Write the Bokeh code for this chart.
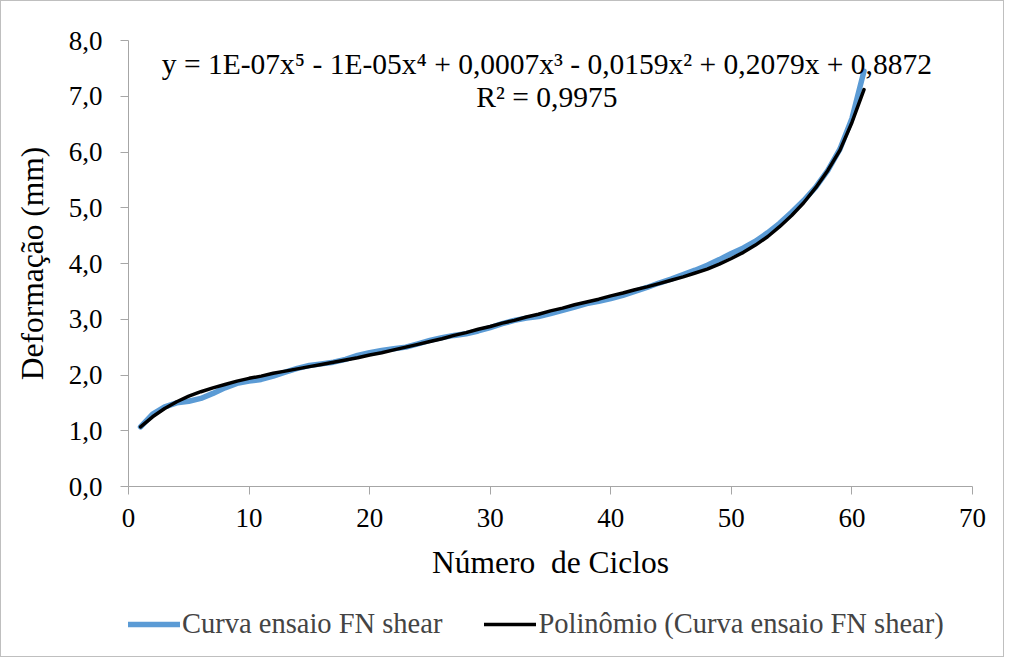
from bokeh.plotting import figure
from bokeh.layouts import column
from bokeh.models import (Label, Legend, LegendItem, FixedTicker, CustomJSTickFormatter,
                          ColumnDataSource, Range1d)
from bokeh.embed import file_html
from bokeh.resources import INLINE

# ---------------- data ----------------
ciclos = list(range(1, 62))
deformacao = [1.07, 1.30, 1.43, 1.50, 1.53, 1.58, 1.67, 1.77, 1.85, 1.89,
              1.92, 1.98, 2.05, 2.12, 2.17, 2.20, 2.23, 2.28, 2.35, 2.40,
              2.44, 2.47, 2.50, 2.56, 2.62, 2.67, 2.71, 2.74, 2.79, 2.85,
              2.92, 2.98, 3.02, 3.05, 3.10, 3.16, 3.22, 3.28, 3.32, 3.37,
              3.43, 3.50, 3.57, 3.65, 3.72, 3.80, 3.88, 3.97, 4.07, 4.18,
              4.28, 4.40, 4.55, 4.72, 4.92, 5.13, 5.37, 5.67, 6.05, 6.60,
              7.45]
polinomio = [1.07, 1.25, 1.40, 1.52, 1.62, 1.70, 1.77, 1.83, 1.89, 1.94,
             1.98, 2.03, 2.07, 2.11, 2.15, 2.19, 2.23, 2.27, 2.31, 2.36,
             2.40, 2.45, 2.50, 2.55, 2.60, 2.65, 2.71, 2.76, 2.82, 2.87,
             2.93, 2.98, 3.04, 3.09, 3.15, 3.20, 3.26, 3.31, 3.36, 3.42,
             3.47, 3.53, 3.58, 3.64, 3.70, 3.76, 3.83, 3.90, 3.99, 4.09,
             4.20, 4.33, 4.48, 4.66, 4.86, 5.09, 5.36, 5.67, 6.03, 6.53,
             7.12]
x_ticks = [0, 10, 20, 30, 40, 50, 60, 70]
y_ticks = [0, 1, 2, 3, 4, 5, 6, 7, 8]
serie_label = "Curva ensaio FN shear"
trend_label = "Polinômio (Curva ensaio FN shear)"
equacao = "y = 1E-07x\u2075 - 1E-05x\u2074 + 0,0007x\u00b3 - 0,0159x\u00b2 + 0,2079x + 0,8872"
r2_text = "R\u00b2 = 0,9975"
x_title = "Número\u00a0 de Ciclos"
y_title = "Deformação (mm)"

FONT = "Liberation Serif"
AXIS_COL = "#a6a6a6"
BORDER = "1px solid #bfbfbf"
BLUE = "#5b9bd5"

# ---------------- main chart ----------------
p = figure(frame_width=844, frame_height=446,
           output_backend="svg", toolbar_location=None,
           x_range=Range1d(0, 70), y_range=Range1d(0, 8),
           min_border_left=127, min_border_right=31, min_border_top=39,
           min_border_bottom=115)
p.outline_line_color = None
p.grid.visible = False
p.background_fill_color = "white"
p.border_fill_color = "white"

src = ColumnDataSource(dict(x=ciclos, y=deformacao, yp=polinomio))
p.line("x", "y", source=src, line_color=BLUE, line_width=5.5,
       line_join="round", line_cap="round")
p.line("x", "yp", source=src, line_color="black", line_width=3.5,
       line_join="round", line_cap="round")

fmt = CustomJSTickFormatter(code="return tick.toFixed(1).replace('.', ',');")

for ax in (p.xaxis[0], p.yaxis[0]):
    ax.axis_line_color = AXIS_COL
    ax.major_tick_line_color = AXIS_COL
    ax.minor_tick_line_color = None
    ax.major_tick_in = 0
    ax.major_tick_out = 8
    ax.major_label_text_font = FONT
    ax.major_label_text_font_size = "27px"
    ax.major_label_text_color = "black"
    ax.axis_label_text_font = FONT
    ax.axis_label_text_font_size = "31.5px"
    ax.axis_label_text_font_style = "normal"
    ax.axis_label_text_color = "black"

p.xaxis.ticker = FixedTicker(ticks=x_ticks)
p.yaxis.ticker = FixedTicker(ticks=y_ticks)
p.yaxis.formatter = fmt
p.xaxis.axis_label = x_title
p.yaxis.axis_label = y_title
p.xaxis.major_label_standoff = 14
p.yaxis.major_label_standoff = 18
p.xaxis.axis_label_standoff = 15
p.yaxis.axis_label_standoff = 16

p.add_layout(Label(x=34.7, y=7.57, text=equacao, text_align="center",
                   text_baseline="middle", text_font=FONT, text_font_size="29.5px",
                   text_color="black"))
p.add_layout(Label(x=34.7, y=6.98, text=r2_text, text_align="center",
                   text_baseline="middle", text_font=FONT, text_font_size="29.5px",
                   text_color="black"))

# ---------------- legend strip (same series, drawn outside its view) ----------------
pl = figure(width=1002, height=55, output_backend="svg", toolbar_location=None,
            x_range=Range1d(-1000, -999), y_range=Range1d(-1000, -999),
            x_axis_type=None, y_axis_type=None, min_border=0)
pl.outline_line_color = None
pl.grid.visible = False
pl.background_fill_color = "white"
pl.border_fill_color = "white"
l1 = pl.line("x", "y", source=src, line_color=BLUE, line_width=5.5, line_cap="round")
l2 = pl.line("x", "yp", source=src, line_color="black", line_width=3.5, line_cap="round")

legend = Legend(items=[LegendItem(label=serie_label, renderers=[l1]),
                       LegendItem(label=trend_label, renderers=[l2])],
                orientation="horizontal", location=(0, 16),
                label_text_font=FONT, label_text_font_size="28.5px",
                glyph_width=52, label_standoff=2, spacing=42,
                border_line_color=None, background_fill_alpha=0,
                margin=0, padding=0)
pl.add_layout(legend)

layout = column(p, pl, spacing=0, styles={"border": BORDER})

open("out.html", "w").write(file_html(layout, INLINE))
